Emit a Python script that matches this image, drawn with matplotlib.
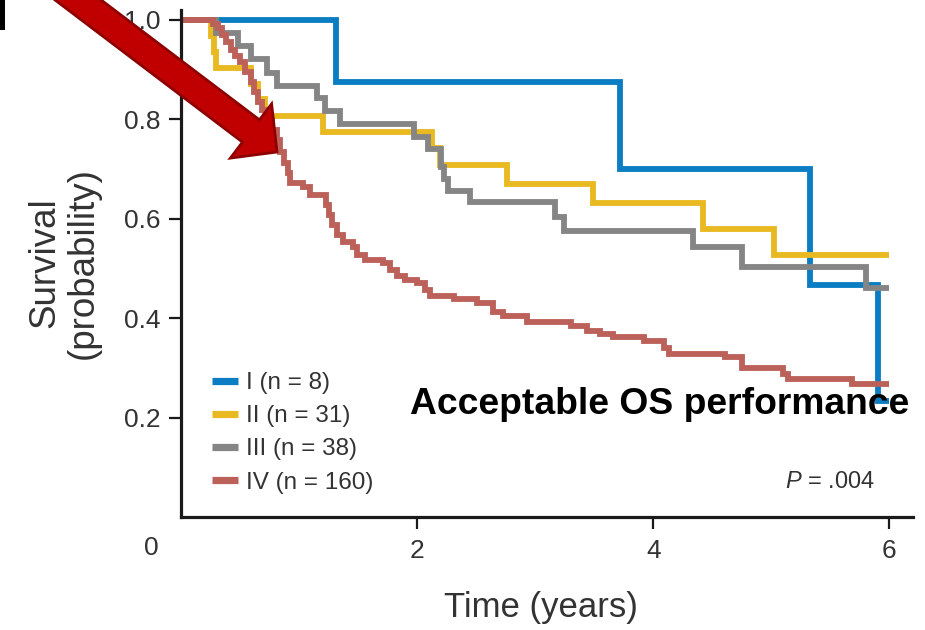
import matplotlib
matplotlib.use('Agg')
import matplotlib.pyplot as plt
from matplotlib.patches import Polygon, Rectangle
import matplotlib.transforms as mtrans

plt.rcParams['font.family'] = ['Liberation Sans', 'DejaVu Sans']
plt.rcParams['mathtext.fontset'] = 'custom'
plt.rcParams['mathtext.rm'] = 'Liberation Sans'
plt.rcParams['mathtext.it'] = 'Liberation Sans:italic'

# ---------------- data ----------------
labels = ['I (n = 8)', 'II (n = 31)', 'III (n = 38)', 'IV (n = 160)']
colors = ['#0A7DC3', '#E8B920', '#858585', '#BC605A']

t_I = [0.0, 1.31, 3.72, 5.33, 5.90, 6.0]
s_I = [1.0, 0.875, 0.700, 0.467, 0.233, 0.233]

t_II = [0.0, 0.25, 0.28, 0.30, 0.59, 0.65, 0.71, 1.20, 2.13, 2.19, 2.76, 3.49, 4.42, 5.02, 6.0]
s_II = [1.0, 0.968, 0.935, 0.903, 0.871, 0.840, 0.806, 0.774, 0.742, 0.708, 0.670, 0.632, 0.580, 0.527, 0.527]

t_III = [0.0, 0.30, 0.48, 0.59, 0.73, 0.81, 1.15, 1.22, 1.35, 1.97, 2.09, 2.20, 2.23, 2.26,
         2.45, 3.17, 3.24, 4.34, 4.75, 5.80, 6.0]
s_III = [1.0, 0.974, 0.947, 0.921, 0.894, 0.868, 0.842, 0.816, 0.790, 0.764, 0.740, 0.705, 0.680, 0.656,
         0.633, 0.604, 0.575, 0.543, 0.503, 0.461, 0.461]

t_IV = [0.0, 0.27, 0.31, 0.35, 0.38, 0.42, 0.46, 0.50, 0.54, 0.59, 0.62, 0.65, 0.69, 0.73, 0.77,
        0.81, 0.84, 0.87, 0.91, 0.92, 1.03, 1.09, 1.23, 1.25, 1.28, 1.32, 1.37, 1.46, 1.49, 1.56,
        1.71, 1.77, 1.83, 1.90, 2.00, 2.07, 2.11, 2.31, 2.51, 2.64, 2.73, 2.93, 3.30, 3.44, 3.55,
        3.66, 3.92, 4.09, 4.13, 4.61, 4.75, 5.10, 5.14, 5.68, 6.0]
s_IV = [1.0, 0.992, 0.984, 0.970, 0.956, 0.940, 0.928, 0.915, 0.895, 0.875, 0.855, 0.835, 0.819, 0.799, 0.779,
        0.759, 0.734, 0.712, 0.692, 0.672, 0.664, 0.648, 0.628, 0.608, 0.588, 0.567, 0.553, 0.543, 0.527, 0.517,
        0.511, 0.497, 0.485, 0.477, 0.471, 0.457, 0.445, 0.439, 0.431, 0.413, 0.405, 0.392, 0.384, 0.374, 0.368,
        0.362, 0.354, 0.340, 0.328, 0.322, 0.300, 0.288, 0.278, 0.268, 0.268]

x_ticks = [2, 4, 6]
y_ticks = [0.2, 0.4, 0.6, 0.8, 1.0]

# ---------------- figure ----------------
W, H = 925, 630
fig = plt.figure(figsize=(W / 100, H / 100), dpi=100)
ax = fig.add_axes([181 / W, 113 / H, 732 / W, 507 / H])

series = [(t_I, s_I), (t_II, s_II), (t_III, s_III), (t_IV, s_IV)]
for (t, s), c, lab in zip(series, colors, labels):
    ax.step(t, s, where='post', color=c, lw=4.2, label=lab, solid_joinstyle='miter',
            solid_capstyle='butt')

ax.set_xlim(0, 6.2)
ax.set_ylim(0, 1.02)
for sp in ['top', 'right']:
    ax.spines[sp].set_visible(False)
for sp in ['left', 'bottom']:
    ax.spines[sp].set_linewidth(2.3)
    ax.spines[sp].set_color('#1a1a1a')

ax.set_xticks(x_ticks)
ax.set_xticklabels([str(v) for v in x_ticks])
ax.set_yticks(y_ticks)
ax.set_yticklabels(['%.1f' % v for v in y_ticks])
ax.tick_params(axis='both', direction='out', length=8.5, width=1.6, color='#1a1a1a',
               labelcolor='#333333', labelsize=19)
ax.tick_params(axis='y', pad=6)
ax.tick_params(axis='x', pad=7)

# origin label "0"
trans = mtrans.blended_transform_factory(ax.transData, ax.transAxes)
ax.text(-0.25, -0.061, '0', transform=trans, ha='center', va='center',
        fontsize=19, color='#333333', clip_on=False)

# axis labels
fig.text(64 / W, 1 - 263 / H, 'Survival\n(probability)', rotation=90, ha='center', va='center',
         fontsize=26.5, color='#333333', multialignment='center', linespacing=1.15)
fig.text(541 / W, 1 - 608 / H, 'Time (years)', ha='center', va='center',
         fontsize=25, color='#333333')

# legend
leg = ax.legend(loc='upper left', bbox_to_anchor=(0.042, 0.286), frameon=False, fontsize=17.5,
                handlelength=1.1, handletextpad=0.3, labelspacing=0.46, borderpad=0,
                borderaxespad=0, labelcolor='#333333')
for h in leg.legend_handles:
    h.set_linewidth(5.2)

# annotations
ax.text(1.94, 0.207, 'Acceptable OS performance', ha='left', va='baseline',
        fontsize=26.8, fontweight='bold', color='black')
ax.text(5.88, 0.058, r'$P$ = .004', ha='right', va='baseline', fontsize=17, color='#333333')

# big red arrow (decoration, pixel geometry)
pts_px = [(30, -19), (242.5, 142.1), (230.4, 158.1), (277, 152), (271.6, 103.9), (259.5, 119.9), (47, -41)]
pts = [(x / W, 1 - y / H) for x, y in pts_px]
arrow = Polygon(pts, closed=True, facecolor='#C00000', edgecolor='#8E0000', lw=2,
                transform=fig.transFigure, zorder=10, clip_on=False)
fig.add_artist(arrow)

# small black block at top-left
fig.add_artist(Rectangle((0, 1 - 30 / H), 5 / W, 30 / H, transform=fig.transFigure,
                         facecolor='black', edgecolor='none', zorder=10))

fig.savefig('out.png', dpi=100)
